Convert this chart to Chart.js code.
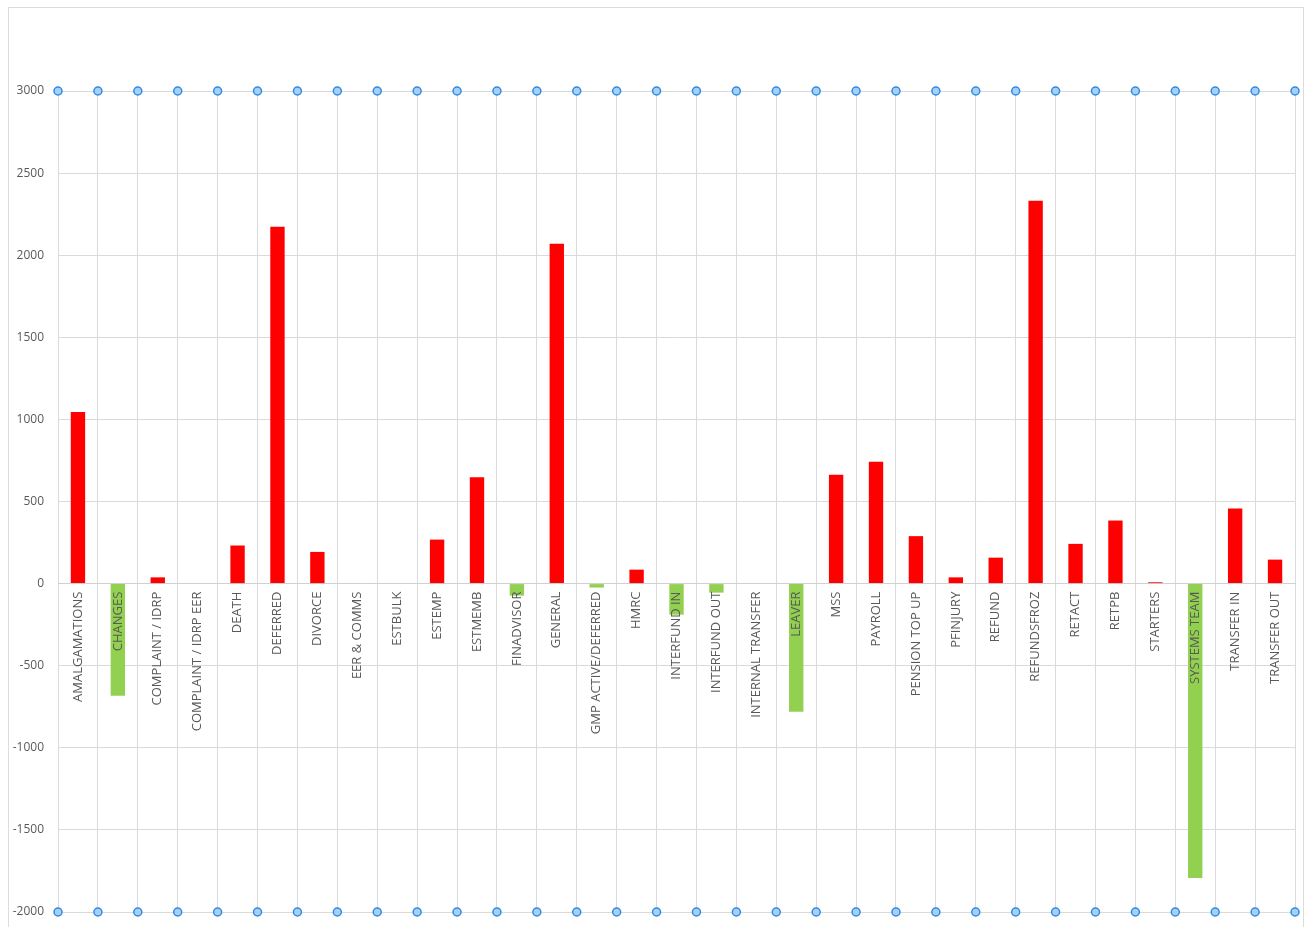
<!DOCTYPE html>
<html lang="en">

<head>
    <meta charset="utf-8" />
    <title>Chart</title>
    <script src="https://cdn.jsdelivr.net/npm/chart.js"></script>
    <style>
        html, body { margin: 0; padding: 0; background: #fff; overflow: hidden; }
        #frame {
            position: absolute;
            left: 8px;
            top: 7px;
            width: 1294px;
            height: 940px;
            border: 1px solid #dcdcdc;
        }
        #chartBox { position: relative; width: 1294px; height: 940px; }
    </style>
</head>

<body>
    <div id="frame">
        <div id="chartBox">
            <canvas id="workChart"></canvas>
        </div>
    </div>

    <script>
        // categories and values
        const categories = [
            'AMALGAMATIONS', 'CHANGES', 'COMPLAINT / IDRP', 'COMPLAINT / IDRP EER', 'DEATH',
            'DEFERRED', 'DIVORCE', 'EER & COMMS', 'ESTBULK', 'ESTEMP', 'ESTMEMB', 'FINADVISOR',
            'GENERAL', 'GMP ACTIVE/DEFERRED', 'HMRC', 'INTERFUND IN', 'INTERFUND OUT',
            'INTERNAL TRANSFER', 'LEAVER', 'MSS', 'PAYROLL', 'PENSION TOP UP', 'PFINJURY',
            'REFUND', 'REFUNDSFROZ', 'RETACT', 'RETPB', 'STARTERS', 'SYSTEMS TEAM',
            'TRANSFER IN', 'TRANSFER OUT'
        ];
        const values = [
            1045, -683, 38, 0, 232,
            2173, 193, 0, 0, 268, 648, -73,
            2069, -24, 85, -189, -55,
            0, -780, 663, 742, 289, 38,
            158, 2331, 242, 384, 8, -1793,
            457, 146
        ];
        // marker points on category boundaries that pin the y range
        const boundaryIndex = Array.from({ length: categories.length + 1 }, (_, i) => i);
        const topMarker = 3000;
        const bottomMarker = -2000;
        const yTicks = [-2000, -1500, -1000, -500, 0, 500, 1000, 1500, 2000, 2500, 3000];

        const positiveColor = '#ff0000';
        const negativeColor = '#92d050';

        const markerPoints = boundaryIndex.map(i => ({ x: i, y: topMarker }))
            .concat(boundaryIndex.map(i => ({ x: i, y: bottomMarker })));

        new Chart(document.getElementById('workChart'), {
            data: {
                labels: categories,
                datasets: [{
                    type: 'bar',
                    data: values,
                    backgroundColor: values.map(v => v < 0 ? negativeColor : positiveColor),
                    borderWidth: 0,
                    grouped: false,
                    barPercentage: 0.36,
                    categoryPercentage: 1,
                    xAxisID: 'x',
                    yAxisID: 'y'
                }, {
                    type: 'scatter',
                    data: markerPoints,
                    pointRadius: 4,
                    pointBorderWidth: 1.5,
                    pointBackgroundColor: '#a6d0f5',
                    pointBorderColor: '#2f8be3',
                    clip: false,
                    xAxisID: 'xp',
                    yAxisID: 'y'
                }]
            },
            options: {
                responsive: true,
                maintainAspectRatio: false,
                animation: false,
                layout: {
                    padding: { top: 83, right: 8, bottom: 36, left: 0 }
                },
                plugins: {
                    legend: { display: false },
                    tooltip: { enabled: false }
                },
                scales: {
                    x: {
                        type: 'category',
                        position: { y: 0 },
                        offset: true,
                        grid: {
                            offset: true,
                            color: '#dadada',
                            drawTicks: false
                        },
                        border: { color: '#d0d0d0' },
                        ticks: {
                            z: 1,
                            autoSkip: false,
                            minRotation: 90,
                            maxRotation: 90,
                            padding: 8,
                            color: '#595959',
                            font: { family: 'Open Sans', size: 13 }
                        }
                    },
                    xp: {
                        type: 'linear',
                        display: false,
                        min: 0,
                        max: categories.length
                    },
                    y: {
                        min: bottomMarker,
                        max: topMarker,
                        afterFit: scale => { scale.width = 49; },
                        afterBuildTicks: scale => {
                            scale.ticks = yTicks.map(v => ({ value: v }));
                        },
                        grid: {
                            color: '#dadada',
                            drawTicks: false
                        },
                        border: { display: false },
                        ticks: {
                            padding: 14,
                            color: '#595959',
                            font: { family: 'Open Sans', size: 12 },
                            callback: value => String(value)
                        }
                    }
                }
            }
        });
    </script>
</body>

</html>
